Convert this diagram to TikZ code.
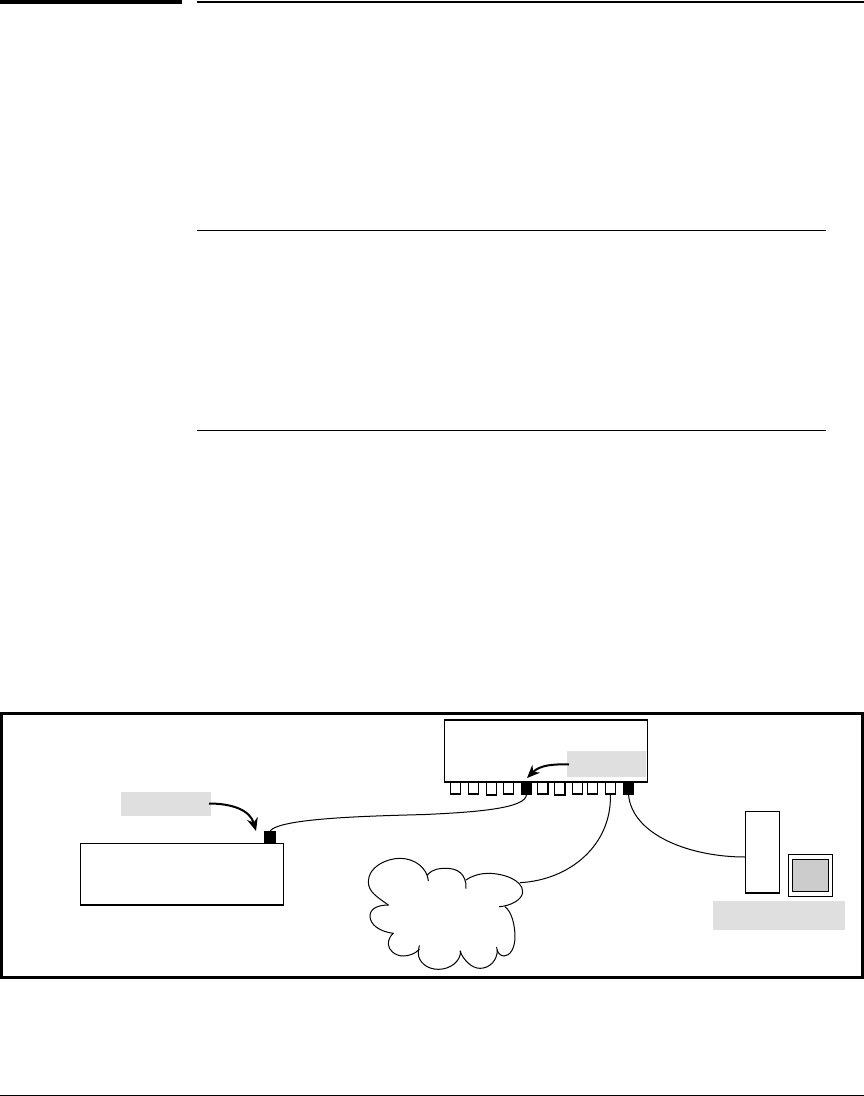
\documentclass[tikz,border=0pt]{standalone}
\usetikzlibrary{arrows.meta}
\definecolor{labelgray}{gray}{0.875}
\definecolor{screengray}{gray}{0.8}
\tikzset{
  x=1pt,y=-1pt,
  boxbase/.style={inner sep=0pt,outer sep=0pt,anchor=north west},
  device/.style={boxbase,draw=black,line width=1.1pt,fill=white},
  port/.style={device,line width=1.1pt},
  activeport/.style={boxbase,fill=black},
  graylabel/.style={boxbase,fill=labelgray},
  cable/.style={draw=black,line width=1pt},
  pointer/.style={draw=black,line width=2pt,-{Stealth[length=13pt,width=11pt]}},
  rulebar/.style={boxbase,fill=black},
  cloudline/.style={draw=black,line width=1pt,line cap=round}
}
\newcommand{\rectnode}[6]{\node[#6,minimum width=#4pt-#2pt,minimum height=#5pt-#3pt] (#1) at (#2,#3) {};}
\begin{document}
\begin{tikzpicture}
\useasboundingbox (0,0) rectangle (864,1096);
\fill[white] (0,0) rectangle (864,1096);
% page rules
\rectnode{topA}{0}{0}{182}{3.5}{rulebar}
\rectnode{topB}{197}{1}{864}{2.7}{rulebar}
\rectnode{ruleA}{197}{230}{826}{231}{rulebar}
\rectnode{ruleB}{197}{430.4}{826}{431.4}{rulebar}
\rectnode{ruleC}{0}{1094.7}{864}{1096}{rulebar}
% frame
\rectnode{frame}{1.5}{713.5}{862.5}{977}{boxbase,draw=black,line width=3pt}
% hub
\rectnode{hub}{444.3}{720}{647.3}{782}{device}
\rectnode{hubLabel}{567}{751}{646}{777}{graylabel}
\rectnode{p1}{450.5}{782}{460.5}{794}{port}
\rectnode{p2}{468.5}{782}{478.5}{794}{port}
\rectnode{p3}{486.3}{782}{496.3}{795}{port}
\rectnode{p4}{503.5}{782}{513.5}{794}{port}
\rectnode{p5}{521}{782}{532}{794.5}{activeport}
\rectnode{p6}{537.5}{782}{548}{794}{port}
\rectnode{p7}{554.5}{782}{565}{795}{port}
\rectnode{p8}{572.5}{782}{582.5}{794}{port}
\rectnode{p9}{587.5}{782}{597.5}{794}{port}
\rectnode{p10}{605.3}{782}{615.5}{794}{port}
\rectnode{p11}{623}{782}{634}{794.5}{activeport}
% left device
\rectnode{dev}{80.3}{843.3}{283.3}{905}{device}
\rectnode{devPort}{264}{831}{276}{843}{activeport}
\rectnode{devLabel}{121}{792}{211}{816}{graylabel}
% workstation
\rectnode{tower}{745.3}{811.3}{779.3}{893}{device}
\rectnode{monitor}{788.3}{854.3}{832.7}{896.7}{device}
\rectnode{screen}{792.3}{859.3}{828.3}{891.3}{device,fill=screengray}
\rectnode{pcLabel}{713}{901}{845}{930}{graylabel}
\coordinate (towerJack) at (745.3,857);
% cloud
\begin{scope}[shift={(340,850)},x=0.3333pt,y=-0.3333pt]
\coordinate (cloudEdge) at (540,98);
\draw[cloudline] (145,165) .. controls (110,140) and (85,125) .. (85,95)
  .. controls (85,50) and (140,25) .. (180,25)
  .. controls (225,25) and (262,55) .. (265,92);
\draw[cloudline] (262,75) .. controls (280,55) and (300,55) .. (320,55)
  .. controls (350,55) and (380,70) .. (378,115);
\draw[cloudline] (378,90) .. controls (400,75) and (425,70) .. (445,70)
  .. controls (490,70) and (548,90) .. (548,125)
  .. controls (548,150) and (510,168) .. (478,170);
\draw[cloudline] (495,170) .. controls (515,185) and (525,225) .. (525,260)
  .. controls (525,295) and (510,318) .. (492,318)
  .. controls (480,318) and (470,305) .. (470,292);
\draw[cloudline] (472,300) .. controls (472,330) and (450,355) .. (420,355)
  .. controls (395,355) and (370,330) .. (360,303);
\draw[cloudline] (362,303) .. controls (362,335) and (330,358) .. (295,358)
  .. controls (260,358) and (235,335) .. (235,310)
  .. controls (235,302) and (236,295) .. (238,287);
\draw[cloudline] (238,298) .. controls (225,312) and (205,318) .. (190,318)
  .. controls (165,318) and (145,300) .. (145,282)
  .. controls (145,270) and (150,258) .. (160,250);
\draw[cloudline] (160,250) .. controls (120,245) and (90,225) .. (90,198)
  .. controls (90,175) and (115,165) .. (145,165);
\end{scope}
% cables
\draw[cable] (p5.south) .. controls (526,808) and (480,812) .. (425,814.5)
  .. controls (370,816) and (280,818) .. (devPort.north);
\draw[cable] (p10.south) .. controls (612,845) and (570,880) .. (cloudEdge);
\draw[cable] (p11.south) .. controls (632,835) and (690,857) .. (towerJack);
% pointers
\coordinate (hubTip) at (527,778);
\coordinate (hubTail) at (569,764.5);
\coordinate (devTip) at (256,831);
\coordinate (devTail) at (209,803.5);
\draw[pointer] (hubTail) .. controls (553,764) and (540,765) .. (hubTip);
\draw[pointer] (devTail) .. controls (232,803.5) and (250,810) .. (devTip);
\end{tikzpicture}
\end{document}
